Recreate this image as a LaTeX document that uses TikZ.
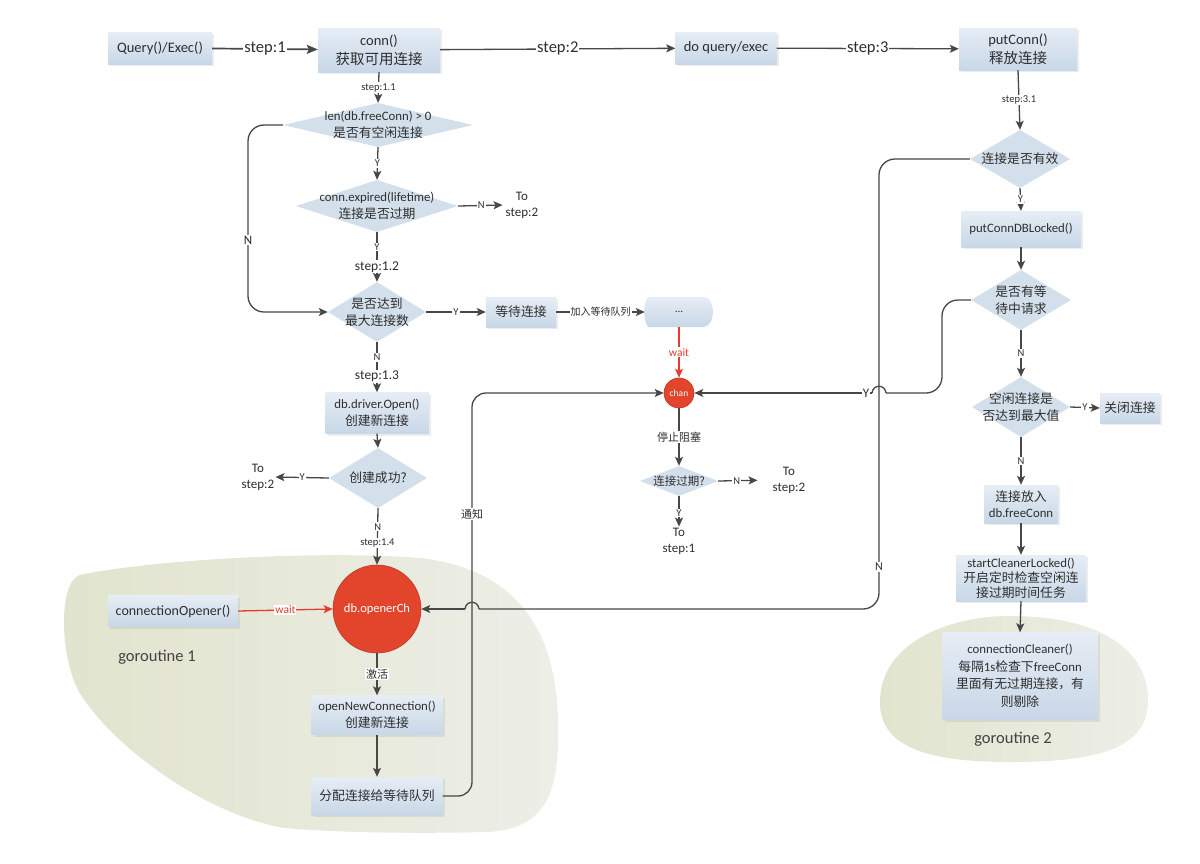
\documentclass[tikz,border=0pt]{standalone}
\usepackage{fontspec}
\setmainfont{Carlito}
\newfontfamily\cjk{Noto Sans CJK SC}
\usetikzlibrary{arrows.meta,shapes.geometric,shadows}
\newcommand\zh[1]{{\cjk #1}}
\definecolor{boxtop}{HTML}{E6EDF5}
\definecolor{boxbot}{HTML}{C8D7E7}
\definecolor{diafill}{HTML}{D3E0EC}
\definecolor{lncol}{HTML}{474747}
\definecolor{redfill}{HTML}{E2452B}
\definecolor{rededge}{HTML}{B8392A}
\definecolor{redline}{HTML}{E53B30}
\definecolor{txtcol}{HTML}{2E2E2E}
\definecolor{blobL}{HTML}{E1E4CD}
\definecolor{blobR}{HTML}{EDEEE7}
\tikzset{
  box/.style={rectangle, top color=boxtop, bottom color=boxbot, align=center, inner sep=2pt,
    text=txtcol, font=\fontsize{12.8}{17}\selectfont,
    drop shadow={opacity=0.15, shadow xshift=2pt, shadow yshift=-2pt}},
  bigfont/.style={font=\fontsize{14.5}{19}\selectfont},
  dia/.style={diamond, fill=diafill, inner sep=0pt},
  dtxt/.style={align=center, text=txtcol, inner sep=0pt, font=\fontsize{12.8}{17}\selectfont},
  arr/.style={draw=lncol, line width=1.3pt, -{Stealth[length=9pt,width=8pt,inset=2pt]}},
  bigarr/.style={draw=lncol, line width=1.7pt, -{Stealth[length=11pt,width=9pt,inset=2pt]}},
  con/.style={draw=lncol, line width=1.3pt},
  redarr/.style={draw=redline, line width=1.3pt, -{Stealth[length=9pt,width=8pt,inset=2pt]}},
  lbl/.style={fill=white, inner sep=1pt, text=txtcol},
  fsmall/.style={font=\fontsize{10.5}{12}\selectfont},
  fstep/.style={font=\fontsize{10.5}{12}\selectfont},
  fmid/.style={font=\fontsize{13.5}{16}\selectfont},
  fbig/.style={font=\fontsize{16.5}{19}\selectfont},
  fzh/.style={font=\fontsize{11}{13}\cjk},
  tostep/.style={align=center, text=txtcol, inner sep=1pt, font=\fontsize{13}{16}\selectfont},
  redc/.style={circle, fill=redfill, draw=rededge, line width=0.6pt, text=white, inner sep=0pt},
  glabel/.style={text=txtcol!90, font=\fontsize{16.5}{19}\selectfont}
}
\begin{document}
\begin{tikzpicture}[x=1pt,y=-1pt]
\useasboundingbox (0,0) rectangle (1200,863);
\fill[white] (0,0) rectangle (1200,863);

% goroutine blobs
\path[left color=blobL, right color=blobR]
  (80,575) .. controls (150,560) and (320,550) .. (420,558)
  .. controls (525,570) and (556,640) .. (558,720)
  .. controls (560,790) and (548,830) .. (485,832)
  .. controls (400,834) and (330,832) .. (285,828)
  .. controls (205,815) and (110,745) .. (78,690)
  .. controls (60,655) and (58,582) .. (80,575) -- cycle;
\path[left color=blobL, right color=blobR]
  (880,705) .. controls (878,645) and (945,616) .. (1010,616)
  .. controls (1100,616) and (1148,650) .. (1148,700)
  .. controls (1148,748) and (1100,762) .. (1010,762)
  .. controls (930,762) and (882,748) .. (880,705) -- cycle;
\node[glabel] (g1) at (157,657) {goroutine 1};
\node[glabel] (g2) at (1013,739) {goroutine 2};

% top row
\node[box, bigfont, minimum width=104pt, minimum height=32pt] (q) at (160,48) {Query()/Exec()};
\node[box, bigfont, minimum width=122pt, minimum height=44pt] (conn) at (379,50) {conn()\\\zh{获取可用连接}};
\node[box, bigfont, minimum width=101pt, minimum height=32pt] (doq) at (726,48) {do query/exec};
\node[box, bigfont, minimum width=118pt, minimum height=42pt] (put) at (1018,49) {putConn()\\\zh{释放连接}};

% left column
\node[dia, minimum width=190pt, minimum height=44pt,
  label={[dtxt]center:{len(db.freeConn) > 0\\\zh{是否有空闲连接}}}] (d1) at (378,125) {};
\node[dia, minimum width=162pt, minimum height=52pt,
  label={[dtxt]center:{conn.expired(lifetime)\\\zh{连接是否过期}}}] (d2) at (377,206) {};
\node[tostep] (ts2a) at (522,205) {To\\step:2};
\node[dia, minimum width=98pt, minimum height=60pt,
  label={[dtxt]center:{\zh{是否达到}\\\zh{最大连接数}}}] (d3) at (377,312) {};
\node[box, minimum width=70pt, minimum height=30pt] (wt) at (521,312) {\zh{等待连接}};
\path[top color=boxtop, bottom color=boxbot]
  (648,297) -- (704,297) .. controls (716,299) and (716,325) .. (704,327)
  -- (648,327) .. controls (643,320) and (643,304) .. (648,297) -- cycle;
\node[minimum width=68pt, minimum height=30pt, inner sep=0pt, text=txtcol,
  font=\fontsize{11}{12}\selectfont] (qu) at (679,312) {...};
\node[redc, minimum size=30pt, font=\fontsize{9.5}{11}\selectfont] (chan) at (679,393) {chan};
\node[dia, minimum width=78pt, minimum height=30pt,
  label={[dtxt, font=\fontsize{11.5}{13}\cjk]center:{连接过期?}}] (d4) at (679,481) {};
\node[tostep] (ts2b) at (789,480) {To\\step:2};
\node[tostep] (ts1) at (679,541) {To\\step:1};
\node[box, minimum width=103pt, minimum height=41pt] (dbo) at (377,413) {db.driver.Open()\\\zh{创建新连接}};
\node[dia, minimum width=98pt, minimum height=60pt,
  label={[dtxt]center:{\zh{创建成功?}}}] (d5) at (378,478) {};
\node[tostep] (ts2c) at (258,477) {To\\step:2};
\node[redc, minimum size=88pt, font=\fontsize{12.5}{14}\selectfont] (och) at (377,609) {db.openerCh};
\node[box, font=\fontsize{14}{17}\selectfont, minimum width=130pt, minimum height=31pt] (cop) at (173,611) {connectionOpener()};
\node[box, minimum width=131pt, minimum height=39pt] (onc) at (377,715) {openNewConnection()\\\zh{创建新连接}};
\node[box, minimum width=131pt, minimum height=38pt] (alloc) at (377,796) {\zh{分配连接给等待队列}};

% right column
\node[dia, minimum width=100pt, minimum height=58pt,
  label={[dtxt]center:{\zh{连接是否有效}}}] (r1) at (1020,159) {};
\node[box, minimum width=119pt, minimum height=36pt] (pdl) at (1021,229) {putConnDBLocked()};
\node[dia, minimum width=100pt, minimum height=60pt,
  label={[dtxt]center:{\zh{是否有等}\\\zh{待中请求}}}] (r2) at (1021,300) {};
\node[dia, minimum width=98pt, minimum height=60pt,
  label={[dtxt]center:{\zh{空闲连接是}\\\zh{否达到最大值}}}] (r3) at (1021,407) {};
\node[box, minimum width=60pt, minimum height=30pt] (close) at (1130,408) {\zh{关闭连接}};
\node[box, minimum width=74pt, minimum height=38pt, font=\fontsize{12.8}{16}\selectfont] (fc) at (1021,504) {\zh{连接放入}\\db.freeConn};
\node[box, minimum width=130pt, minimum height=46pt, font=\fontsize{12.8}{15}\selectfont] (scl) at (1021,578)
  {startCleanerLocked()\\\zh{开启定时检查空闲连}\\\zh{接过期时间任务}};
\node[box, minimum width=155pt, minimum height=87pt, font=\fontsize{12.8}{17.5}\selectfont] (cc) at (1020,676)
  {connectionCleaner()\\\zh{每隔}1s\zh{检查下}freeConn\\\zh{里面有无过期连接，有}\\\zh{则剔除}};

% top connectors
\draw[bigarr] (q) -- node[lbl, fbig]{step:1} (conn);
\draw[arr] (conn) -- node[lbl, fbig, pos=0.5]{step:2} (doq);
\draw[arr] (doq) -- node[lbl, fbig, pos=0.5]{step:3} (put);

% left column connectors
\draw[arr] (conn.south) -- node[lbl, fstep]{step:1.1} (d1.north);
\draw[arr] (d1.south) -- node[lbl, fsmall]{Y} (d2.north);
\draw[arr, shorten >=2pt] (d2.east) -- node[lbl, fsmall]{N} (ts2a.west);
\draw[arr] (d2.south) -- node[lbl, fsmall, pos=0.3]{Y} node[lbl, fmid, pos=0.7]{step:1.2} (d3.north);
\draw[arr, rounded corners=16pt] (d1.west) -- (248,125) -- node[lbl, pos=0.615, font=\fontsize{13}{15}\selectfont]{N} (248,312) -- (d3.west);
\draw[arr] (d3.east) -- node[lbl, fsmall]{Y} (wt.west);
\draw[arr] (wt.east) -- node[lbl, font=\fontsize{10}{12}\cjk]{加入等待队列} (qu.west);
\draw[redarr] (qu.south) -- node[fill=white, inner sep=1pt, text=redline, font=\fontsize{11.5}{13}\selectfont]{wait} (chan.north);
\draw[arr] (chan.south) -- node[lbl, fzh]{停止阻塞} (d4.north);
\draw[arr, shorten >=14pt] (d4.east) -- node[lbl, fsmall, pos=0.35]{N} (ts2b.west);
\draw[arr] (d4.south) -- node[lbl, fsmall, pos=0.55]{Y} (ts1.north);
\draw[arr] (d3.south) -- node[lbl, fsmall, pos=0.3]{N} node[lbl, fmid, pos=0.68]{step:1.3} (dbo.north);
\draw[arr] (dbo.south) -- (d5.north);
\draw[arr] (d5.west) -- node[lbl, fsmall]{Y} (ts2c.east);
\draw[arr] (d5.south) -- node[lbl, fsmall, pos=0.33]{N} node[lbl, fstep, pos=0.62]{step:1.4} (och.north);
\draw[redarr] (cop.east) -- node[fill=white, inner sep=1pt, text=redline, font=\fontsize{11.5}{13}\selectfont]{wait} (och.west);
\draw[arr] (och.south) -- node[lbl, fzh, pos=0.5]{激活} (onc.north);
\draw[arr] (onc.south) -- (alloc.north);
\draw[arr, rounded corners=14pt] (alloc.east) -- (472,796) -- node[lbl, fzh, pos=0.7]{通知} (472,393) -- (chan.west);

% right column connectors
\draw[arr] (put.south) -- node[lbl, fstep]{step:3.1} (r1.north);
\draw[arr] (r1.south) -- node[lbl, fsmall]{Y} (pdl.north);
\draw[arr] (pdl.south) -- (r2.north);
\draw[arr] (r2.south) -- node[lbl, fsmall]{N} (r3.north);
\draw[arr] (r3.east) -- node[lbl, fsmall]{Y} (close.west);
\draw[arr] (r3.south) -- node[lbl, fsmall]{N} (fc.north);
\draw[arr] (fc.south) -- (scl.north);
\draw[arr] (scl.south) -- (cc.north);

% N: invalid connection -> db.openerCh (hops over the notify line)
\draw[con, rounded corners=16pt] (r1.west) -- (879,159) -- (879,609) -- (479,609);
\draw[con] (479,609) .. controls (478,600) and (466,600) .. (465,609);
\draw[arr] (465,609) -- (och.east);
\node[lbl, font=\fontsize{12}{14}\selectfont] (nlab) at (879,567) {N};

% Y: waiting request -> chan (hops over the N line)
\draw[con, rounded corners=16pt] (r2.west) -- (942,300) -- (942,393) -- (886,393);
\draw[con] (886,393) .. controls (885,384) and (873,384) .. (872,393);
\draw[arr] (872,393) -- (chan.east);
\node[lbl, font=\fontsize{13}{15}\selectfont] (ylab) at (866,393) {Y};
\end{tikzpicture}
\end{document}
